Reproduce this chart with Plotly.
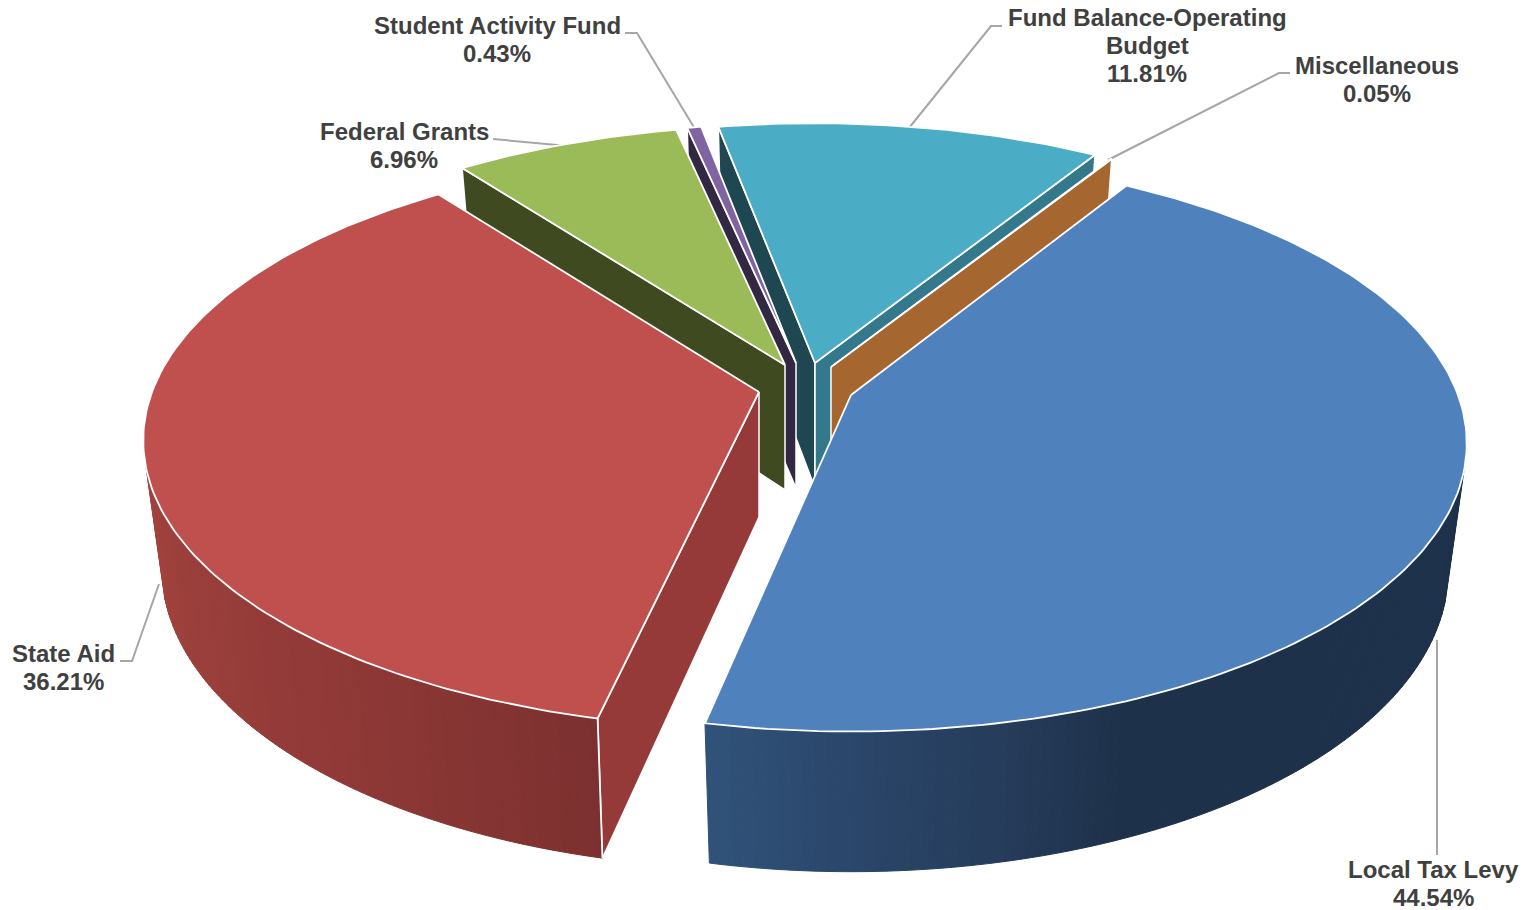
import math
import plotly.graph_objects as go

# ---- data ----
categories = ["Local Tax Levy", "State Aid", "Federal Grants", "Student Activity Fund",
              "Fund Balance-Operating Budget", "Miscellaneous"]
shares = [44.54, 36.21, 6.96, 0.43, 11.81, 0.05]

# ---- slice styling ----
top_colors = ["#4f81bd", "#c0504d", "#9bbb59", "#8064a2", "#4bacc6", "#f79646"]
side_colors = ["#1f3349", "#953a39", "#3f4a20", "#322843", "#1f4752", "#a56630"]
end_colors = ["#1f3349", "#953a39", "#3f4a20", "#322843", "#33788b", "#a56630"]
apex_x = [851, 759, 785, 796, 815, 831]
apex_y = [395, 392, 365, 363, 363, 367]
angle_nudge = [0.05, 1.3, 1.0, 1.0, 0.8, 0.7]
draw_order = [4, 5, 3, 2, 1, 0]

# ---- projection of the tilted pie ----
RX, RY, PERSP, DEPTH, SHRINK = 607, 280, 0.168, 125, 0.97
FIRST_ANGLE = 31.2
VISIBLE_V = 0.26

# ---- data label layout ----
label_lines = {
    0: ["Local Tax Levy"], 1: ["State Aid"], 2: ["Federal Grants"], 3: ["Student Activity Fund"],
    4: ["Fund Balance-Operating", "Budget"], 5: ["Miscellaneous"],
}
label_x = [1433, 63, 404, 497, 1147, 1377]
label_y = [869, 653, 131, 25, 17, 65]
leader_x = [[1437, 1437], [120, 132, 159], [493, 568], [625, 637, 695], [1002, 991, 909], [1290, 1279, 1108]]
leader_y = [[640, 855], [661, 661, 584], [139, 146], [33, 33, 129], [26, 26, 128], [73, 73, 160]]
LINE_GAP = 28


def offsets(phi):
    r = math.radians(phi)
    u, v = math.sin(r), -math.cos(r)
    w = 1 - PERSP * v
    return RX * u / w, RY * v / w, w


def top(i, phi):
    dx, dy, _ = offsets(phi)
    return apex_x[i] + dx, apex_y[i] + dy


def bottom(i, phi):
    dx, dy, w = offsets(phi)
    return apex_x[i] + SHRINK * dx, apex_y[i] + SHRINK * dy + DEPTH / w


def frange(a, b, n):
    return [a + (b - a) * j / n for j in range(n + 1)]


def hex_mix(stops, t):
    for (t0, c0), (t1, c1) in zip(stops, stops[1:]):
        if t <= t1:
            f = max(0, (t - t0) / (t1 - t0))
            rgb = [int(c0[k:k + 2], 16) * (1 - f) + int(c1[k:k + 2], 16) * f for k in (1, 3, 5)]
            return "rgb(%d,%d,%d)" % tuple(rgb)
    return stops[-1][1]


wall_stops = {
    0: [(100, "#1e314a"), (157, "#1e314a"), (168, "#263d5b"), (178, "#2a4568"), (193, "#32547c")],
    1: [(190, "#7a302f"), (215, "#8f3937"), (260, "#a5443f")],
}

fig = go.Figure()


def poly(xs, ys, fill, line="#ffffff", lw=1.5):
    fig.add_trace(go.Scatter(x=xs + xs[:1], y=ys + ys[:1], mode="lines", fill="toself",
                             fillcolor=fill, line=dict(color=line, width=lw),
                             hoverinfo="skip", showlegend=False))


# leader lines sit behind the pie
for xs, ys in zip(leader_x, leader_y):
    fig.add_trace(go.Scatter(x=xs, y=ys, mode="lines", line=dict(color="#a6a6a6", width=2),
                             hoverinfo="skip", showlegend=False))

starts, acc = [], FIRST_ANGLE
for s in shares:
    starts.append(acc)
    acc += s * 3.6

for i in draw_order:
    a0 = starts[i] + angle_nudge[i]
    a1 = a0 + shares[i] * 3.6
    ax, ay = apex_x[i], apex_y[i]
    ax_b, ay_b = ax, ay + DEPTH
    # a radial wall shows only when its outward normal points at the viewer
    if math.sin(math.radians(a0)) < 0:
        x1, y1 = top(i, a0)
        x2, y2 = bottom(i, a0)
        poly([ax, x1, x2, ax_b], [ay, y1, y2, ay_b], side_colors[i])
    if math.sin(math.radians(a1)) > 0:
        x1, y1 = top(i, a1)
        x2, y2 = bottom(i, a1)
        poly([ax, x1, x2, ax_b], [ay, y1, y2, ay_b], end_colors[i])
    # outer curved wall with a shading ramp
    if i in wall_stops:
        lo = max(a0, 180 - math.degrees(math.acos(VISIBLE_V)))
        hi = min(a1, 180 + math.degrees(math.acos(VISIBLE_V)))
        edges = frange(lo, hi, 90)
        for p, q in zip(edges, edges[1:]):
            pts = [top(i, p), top(i, q), bottom(i, q), bottom(i, p)]
            c = hex_mix(wall_stops[i], (p + q) / 2)
            poly([t[0] for t in pts], [t[1] for t in pts], c, line=c, lw=1)
        # bright vertical corner where the wall meets the radial face
        if i == 1:
            x1, y1 = top(i, a0)
            x2, y2 = bottom(i, a0)
            fig.add_trace(go.Scatter(x=[x1, x2], y=[y1, y2], mode="lines",
                                     line=dict(color="#ffffff", width=1.8),
                                     hoverinfo="skip", showlegend=False))
    # top face
    arc = [top(i, p) for p in frange(a0, a1, max(2, int(a1 - a0)))]
    poly([ax] + [t[0] for t in arc], [ay] + [t[1] for t in arc], top_colors[i], lw=1.8)

annotations = []
for i, name in enumerate(categories):
    lines = label_lines[i] + ["%.2f%%" % shares[i]]
    for j, text in enumerate(lines):
        annotations.append(dict(x=label_x[i], y=label_y[i] + j * LINE_GAP, text=text, showarrow=False,
                                xanchor="center", yanchor="middle",
                                font=dict(family="Liberation Sans", size=24, color="#404040", weight=700)))

fig.update_layout(
    width=1531, height=910, margin=dict(l=0, r=0, t=0, b=0),
    paper_bgcolor="#ffffff", plot_bgcolor="#ffffff", showlegend=False,
    xaxis=dict(range=[0, 1531], visible=False, fixedrange=True),
    yaxis=dict(range=[910, 0], visible=False, fixedrange=True),
    annotations=annotations, hovermode=False,
)
fig.write_html("out.html", config={"displayModeBar": False},
               post_script="document.body.style.margin='0';document.documentElement.style.overflow='hidden';")
